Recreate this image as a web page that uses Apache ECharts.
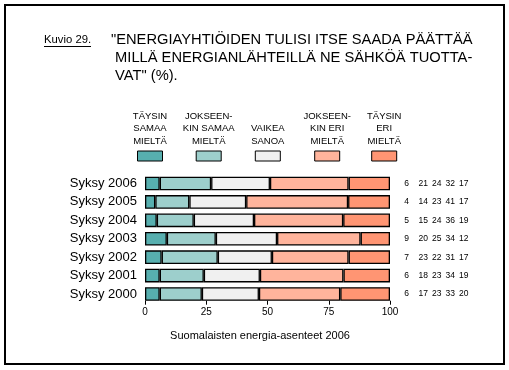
<!DOCTYPE html>
<html>
<head>
<meta charset="utf-8">
<script src="https://cdn.jsdelivr.net/npm/echarts@6/dist/echarts.min.js"></script>
<style>html,body{margin:0;padding:0;background:#fff}#c{width:509px;height:370px}</style>
</head>
<body>
<div id="c"></div>
<script>
const years = ['Syksy 2006','Syksy 2005','Syksy 2004','Syksy 2003','Syksy 2002','Syksy 2001','Syksy 2000'];
const seriesNames = ['TÄYSIN\nSAMAA\nMIELTÄ','JOKSEEN-\nKIN SAMAA\nMIELTÄ','VAIKEA\nSANOA','JOKSEEN-\nKIN ERI\nMIELTÄ','TÄYSIN\nERI\nMIELTÄ'];
// bar lengths
const taysinSamaa     = [6.0, 4.2, 4.8, 8.9, 6.8, 6.0, 6.0];
const jokseenkinSamaa = [21.0, 13.9, 15.1, 20.0, 22.9, 18.0, 17.2];
const vaikeaSanoa     = [24.0, 23.2, 24.6, 25.0, 22.1, 22.9, 23.3];
const jokseenkinEri   = [32.1, 41.6, 36.4, 34.1, 31.3, 34.1, 33.2];
const taysinEri       = [16.9, 17.1, 19.1, 12.0, 16.9, 19.0, 20.3];
// printed values
const lblTaysinSamaa     = [6, 4, 5, 9, 7, 6, 6];
const lblJokseenkinSamaa = [21, 14, 15, 20, 23, 18, 17];
const lblVaikeaSanoa     = [24, 23, 24, 25, 22, 23, 23];
const lblJokseenkinEri   = [32, 41, 36, 34, 31, 34, 33];
const lblTaysinEri       = [17, 17, 19, 12, 17, 19, 20];
const xTicks = [0, 25, 50, 75, 100];

const colors = ['#57AFAF','#9DCFCC','#F0F0F0','#FFB49C','#FF9573'];
const values = [taysinSamaa, jokseenkinSamaa, vaikeaSanoa, jokseenkinEri, taysinEri];
const labels = [lblTaysinSamaa, lblJokseenkinSamaa, lblVaikeaSanoa, lblJokseenkinEri, lblTaysinEri];
const FONT = '"Liberation Sans", Arial, sans-serif';

const chart = echarts.init(document.getElementById('c'), null, {renderer:'canvas'});

const graphics = [
  {type:'rect', shape:{x:5, y:5, width:499, height:359}, style:{fill:'none', stroke:'#000', lineWidth:2}, silent:true},
  {type:'text', x:44, y:40, style:{text:'Kuvio 29.', font:'11.3px ' + FONT, fill:'#000', textVerticalAlign:'middle'}},
  {type:'line', shape:{x1:44, y1:46.5, x2:91, y2:46.5}, style:{stroke:'#000', lineWidth:1}},
  {type:'text', x:111, y:31, style:{text:'"ENERGIAYHTIÖIDEN TULISI ITSE SAADA PÄÄTTÄÄ\n MILLÄ ENERGIANLÄHTEILLÄ NE SÄHKÖÄ TUOTTA-\n VAT" (%).', font:'14.7px ' + FONT, lineHeight:18, fill:'#000', textVerticalAlign:'top'}},
  {type:'text', x:260, y:336, style:{text:'Suomalaisten energia-asenteet 2006', font:'11px ' + FONT, fill:'#000', textAlign:'center', textVerticalAlign:'middle'}}
];
const legendX = [150, 208.7, 267.8, 327.2, 384.2];
seriesNames.forEach((n, i) => {
  graphics.push({type:'text', x:legendX[i], y:147.5, style:{text:n, font:'9.5px ' + FONT, lineHeight:12.5, fill:'#000', textAlign:'center', textVerticalAlign:'bottom'}});
  graphics.push({type:'rect', shape:{x:legendX[i]-12.5, y:151, width:25, height:10}, style:{fill:colors[i], stroke:'#000', lineWidth:1}});
});

chart.setOption({
  animation:false,
  textStyle:{fontFamily:FONT},
  grid:{left:145, right:119, top:174.3, bottom:66.8, containLabel:false},
  xAxis:{type:'value', min:0, max:100, interval:25, offset:-2.5,
    axisLine:{show:false}, splitLine:{show:false},
    axisTick:{show:true, length:4, lineStyle:{color:'#000', width:1}},
    axisLabel:{color:'#000', fontSize:10, margin:7, formatter:v => xTicks.includes(v) ? String(v) : ''}},
  yAxis:[
    {type:'category', data:years, inverse:true, axisLine:{show:false}, axisTick:{show:false},
      axisLabel:{color:'#000', fontSize:13, margin:8}},
    {type:'category', data:years, inverse:true, position:'right', axisLine:{show:false}, axisTick:{show:false},
      axisLabel:{color:'#000', fontSize:8.5, margin:10, align:'left',
        formatter:(v, idx) => '{a|' + labels[0][idx] + '}{b|' + labels[1][idx] + '}{c|' + labels[2][idx] + '}{d|' + labels[3][idx] + '}{e|' + labels[4][idx] + '}',
        rich:{a:{width:9, align:'right', fontSize:8.5}, b:{width:19, align:'right', fontSize:8.5}, c:{width:13.5, align:'right', fontSize:8.5}, d:{width:13.5, align:'right', fontSize:8.5}, e:{width:13.5, align:'right', fontSize:8.5}}}}
  ],
  series: values.map((arr, i) => ({
    type:'bar', name:seriesNames[i], stack:'all', data:arr, barWidth:'74%',
    itemStyle:{color:colors[i], borderColor:'#000', borderWidth:1.3}
  })),
  graphic:graphics
});
</script>
</body>
</html>
